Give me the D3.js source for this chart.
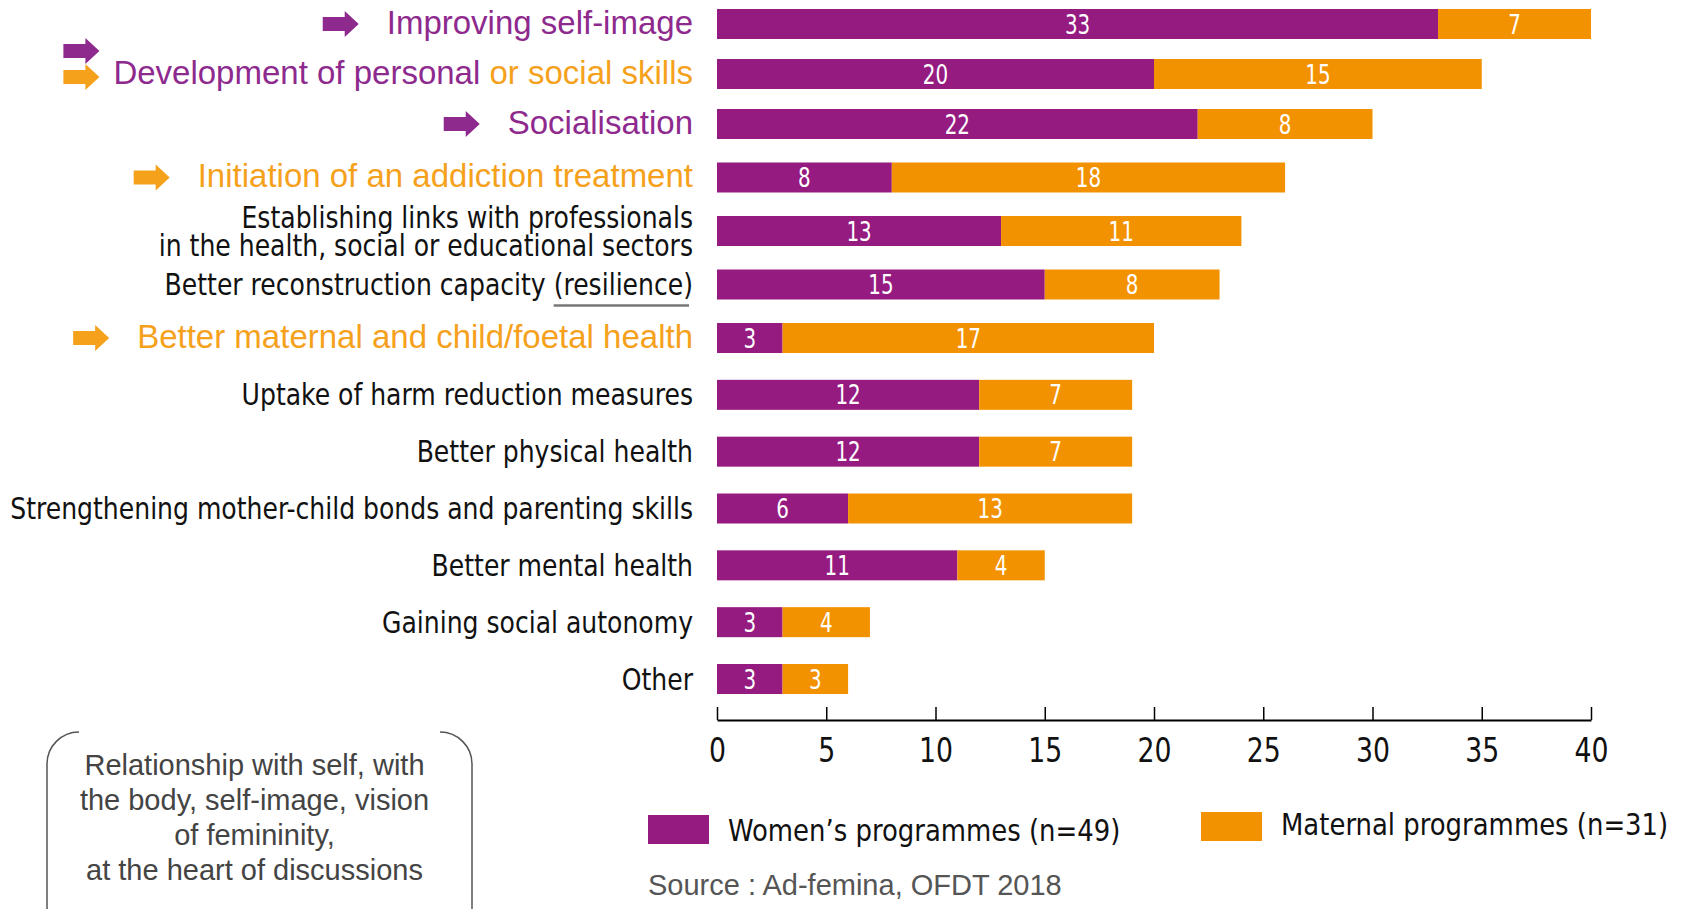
<!DOCTYPE html>
<html>
<head>
<meta charset="utf-8">
<script src="https://cdn.jsdelivr.net/npm/d3@7/dist/d3.min.js"></script>
<style>
  body { margin: 0; background: #fff; }
  svg { display: block; }
</style>
</head>
<body>
<svg id="chart"></svg>
<script>
const categories = [
  "Improving self-image",
  "Development of personal or social skills",
  "Socialisation",
  "Initiation of an addiction treatment",
  "Establishing links with professionals\nin the health, social or educational sectors",
  "Better reconstruction capacity (resilience)",
  "Better maternal and child/foetal health",
  "Uptake of harm reduction measures",
  "Better physical health",
  "Strengthening mother-child bonds and parenting skills",
  "Better mental health",
  "Gaining social autonomy",
  "Other",
];
const womenValues = [33, 20, 22, 8, 13, 15, 3, 12, 12, 6, 11, 3, 3];
const maternalValues = [7, 15, 8, 18, 11, 8, 17, 7, 7, 13, 4, 4, 3];
// which programme a highlighted outcome refers to
const emphasis = ["women", "both", "women", "maternal", null, null, "maternal", null, null, null, null, null, null];
const bothSplit = ["Development of personal ", "or social skills"];
const xTicks = [0, 5, 10, 15, 20, 25, 30, 35, 40];
const seriesNames = ["Women\u2019s programmes (n=49)", "Maternal programmes (n=31)"];
const boxLines = ["Relationship with self, with", "the body, self-image, vision", "of femininity,", "at the heart of discussions"];
const sourceText = "Source : Ad-femina, OFDT 2018";

const width = 1688, height = 909;
const barColor = { women: "#951b81", maternal: "#f39200" };
const textColor = { women: "#8e2a8e", maternal: "#f5a11c" };
const narrow = "'DejaVu Sans Condensed', 'DejaVu Sans', sans-serif";
const arial = "'Liberation Sans', Arial, sans-serif";
const squeezeF = 0.9;

// no narrow font around, so squeeze the text horizontally around its anchor
function squeeze(sel, f) {
  sel.each(function () {
    const t = d3.select(this);
    const tx = +t.attr("x") || 0, ty = +t.attr("y") || 0;
    t.attr("x", 0).attr("y", 0)
      .attr("transform", `translate(${tx},${ty}) scale(${f},1)`);
  });
}

const svg = d3.select("#chart").attr("width", width).attr("height", height);

const rows = categories.map((c, i) => ({ category: c, index: i, women: womenValues[i], maternal: maternalValues[i] }));

const x = d3.scaleLinear().domain([0, 40]).range([717, 1591]);
// row centres, rows get a little further apart going down
const y = d3.scaleLinear().domain([0, 2, 6, 12]).range([24, 124, 338, 679]);
const barH = 30;

const stack = d3.stack().keys(["women", "maternal"]);
const series = stack(rows);

const bars = svg.append("g");
bars.selectAll("g")
  .data(series)
  .join("g")
  .attr("fill", (s) => barColor[s.key])
  .selectAll("rect")
  .data((s) => s)
  .join("rect")
  .attr("x", (d) => x(d[0]))
  .attr("y", (d) => y(d.data.index) - barH / 2)
  .attr("width", (d) => x(d[1]) - x(d[0]))
  .attr("height", barH);

// values inside the bars
bars.selectAll(".val")
  .data(series.flatMap((s) => s.map((d) => ({ d, key: s.key }))))
  .join("text")
  .attr("class", "val")
  .attr("x", (o) => (x(o.d[0]) + x(o.d[1])) / 2)
  .attr("y", (o) => y(o.d.data.index) + 1)
  .attr("text-anchor", "middle")
  .attr("dominant-baseline", "central")
  .attr("fill", "#fff")
  .style("font-family", narrow)
  .style("font-size", "26px")
  .text((o) => o.d.data[o.key])
  .call(squeeze, 0.85);

// x axis, ticks pointing up
const axis = svg.append("g")
  .attr("transform", "translate(0,720)")
  .call(d3.axisBottom(x).tickValues(xTicks).tickSizeInner(-13).tickSizeOuter(0).tickPadding(18));
axis.select(".domain").attr("stroke", "#000").attr("stroke-width", 2);
axis.selectAll(".tick line").attr("stroke", "#000").attr("stroke-width", 1.5);
axis.selectAll(".tick text")
  .style("font-family", narrow)
  .style("font-size", "33px")
  .attr("fill", "#111")
  .attr("dy", null)
  .attr("dominant-baseline", "hanging")
  .call(squeeze, 0.9);

// category labels
const labelRight = 693;
const labels = svg.append("g");
const arrowPath = "M0,-7H22V-13L36,0L22,13V7H0Z";

rows.forEach((r) => {
  const cy = y(r.index);
  const emph = emphasis[r.index];
  if (emph) {
    const t = labels.append("text")
      .attr("x", labelRight)
      .attr("y", cy - 2)
      .attr("text-anchor", "end")
      .attr("dominant-baseline", "central")
      .style("font-family", arial)
      .style("font-size", "33px");
    if (emph === "both") {
      t.append("tspan").attr("fill", textColor.women).text(bothSplit[0]);
      t.append("tspan").attr("fill", textColor.maternal).text(bothSplit[1]);
    } else {
      t.attr("fill", textColor[emph]).text(r.category);
    }
    const left = labelRight - t.node().getComputedTextLength();
    if (emph === "both") {
      labels.append("path").attr("d", arrowPath).attr("fill", textColor.women)
        .attr("transform", `translate(${left - 14 - 36},${cy - 23})`);
      labels.append("path").attr("d", arrowPath).attr("fill", textColor.maternal)
        .attr("transform", `translate(${left - 14 - 36},${cy + 3})`);
    } else {
      labels.append("path").attr("d", arrowPath).attr("fill", textColor[emph])
        .attr("transform", `translate(${left - 28 - 36},${cy})`);
    }
  } else {
    const lines = r.category.split("\n");
    lines.forEach((line, k) => {
      const t = labels.append("text")
        .attr("x", labelRight)
        .attr("y", cy + (k - (lines.length - 1) / 2) * 28)
        .attr("text-anchor", "end")
        .attr("dominant-baseline", "central")
        .attr("fill", "#111")
        .style("font-family", narrow)
        .style("font-size", "31px")
        .text(line);
      const node = t.node();
      const total = node.getComputedTextLength();
      const m = line.indexOf("(resilience)");
      const before = m >= 0 ? node.getSubStringLength(0, m) : 0;
      t.call(squeeze, squeezeF);
      if (m >= 0) {
        labels.append("line")
          .attr("x1", labelRight - (total - before) * squeezeF)
          .attr("x2", labelRight - 4)
          .attr("y1", cy + 21)
          .attr("y2", cy + 21)
          .attr("stroke", "#777")
          .attr("stroke-width", 2.5);
      }
    });
  }
});

// legend
const legend = svg.append("g");
const legendItems = [
  { key: "women", rx: 648, ry: 815, tx: 728, ty: 830 },
  { key: "maternal", rx: 1201, ry: 812, tx: 1281, ty: 824 },
];
legendItems.forEach((l, i) => {
  legend.append("rect").attr("x", l.rx).attr("y", l.ry).attr("width", 61).attr("height", 29).attr("fill", barColor[l.key]);
  legend.append("text")
    .attr("x", l.tx).attr("y", l.ty)
    .attr("dominant-baseline", "central")
    .attr("fill", "#111")
    .style("font-family", narrow)
    .style("font-size", "31px")
    .text(seriesNames[i])
    .call(squeeze, 0.93);
});

svg.append("text")
  .attr("x", 648).attr("y", 885)
  .attr("dominant-baseline", "central")
  .attr("fill", "#555")
  .style("font-family", arial)
  .style("font-size", "29px")
  .text(sourceText);

// bracket box with the note
const note = svg.append("g");
const bl = 47, br = 472, bt = 732, bb = 945, rad = 32;
note.append("path")
  .attr("d", `M${bl + rad},${bt}A${rad},${rad} 0 0 0 ${bl},${bt + rad}V${bb - rad}A${rad},${rad} 0 0 0 ${bl + rad},${bb}`)
  .attr("fill", "none").attr("stroke", "#555").attr("stroke-width", 1.5);
note.append("path")
  .attr("d", `M${br - rad},${bt}A${rad},${rad} 0 0 1 ${br},${bt + rad}V${bb - rad}A${rad},${rad} 0 0 1 ${br - rad},${bb}`)
  .attr("fill", "none").attr("stroke", "#555").attr("stroke-width", 1.5);
note.selectAll("text")
  .data(boxLines)
  .join("text")
  .attr("x", (bl + br) / 2 - 5)
  .attr("y", (d, i) => 765 + i * 35)
  .attr("text-anchor", "middle")
  .attr("dominant-baseline", "central")
  .attr("fill", "#444")
  .style("font-family", arial)
  .style("font-size", "29px")
  .text((d) => d);
</script>
</body>
</html>
